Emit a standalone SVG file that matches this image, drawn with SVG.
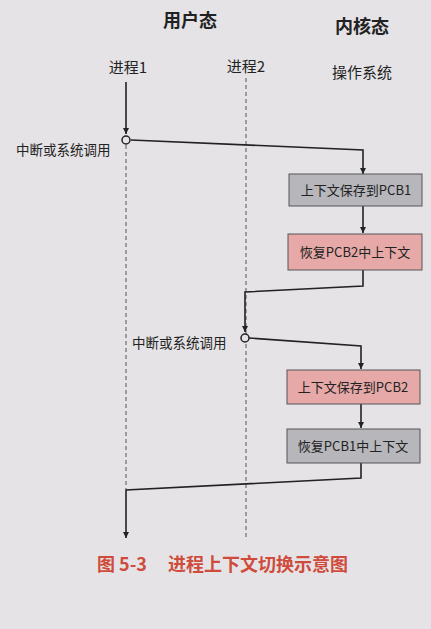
<svg xmlns="http://www.w3.org/2000/svg" width="431" height="629" viewBox="0 0 431 629">
<style>
text{font-family:"Noto Sans CJK SC","Liberation Sans",sans-serif;fill:#222}
.title{font-size:18px;font-weight:bold}
.lbl{font-size:15px}
.small{font-size:13.5px}
.box text{font-size:13px;text-anchor:middle}
.gray{fill:#b6b6bb;stroke:#555;stroke-width:1}
.pink{fill:#e6a9a8;stroke:#555;stroke-width:1}
.dash{stroke:#555;stroke-width:1;stroke-dasharray:4,3;fill:none}
.line{stroke:#222;stroke-width:1.6;fill:none}
.cap{font-size:18px;fill:#cf4b3b;font-weight:bold}
</style>
<defs>
<marker id="ah" viewBox="0 0 10 10" refX="10" refY="5" markerWidth="6" markerHeight="8" orient="auto" markerUnits="userSpaceOnUse">
<path d="M0,0 L10,5 L0,10 z" fill="#222"/>
</marker>
</defs>
<rect width="431" height="629" fill="#e5e3e6"/>
<g id="headers">
<text class="title" x="190" y="27" text-anchor="middle">用户态</text>
<text class="title" x="362" y="33" text-anchor="middle">内核态</text>
<text class="lbl" x="128" y="73" text-anchor="middle">进程1</text>
<text class="lbl" x="246" y="72" text-anchor="middle">进程2</text>
<text class="lbl" x="362" y="78" text-anchor="middle">操作系统</text>
</g>
<g id="lifelines">
<line class="dash" x1="126" y1="145" x2="126" y2="489"/>
<line class="dash" x1="246" y1="78" x2="246" y2="538"/>
</g>
<g id="connectors">
<path class="line" d="M126,82 L126,134" marker-end="url(#ah)"/>
<path class="line" d="M131,140 L363,150 L363,174" marker-end="url(#ah)"/>
<path class="line" d="M363,206 L363,233" marker-end="url(#ah)"/>
<path class="line" d="M363,270 L363,286 L245,292 L245,332" marker-end="url(#ah)"/>
<path class="line" d="M249,338 L361,346 L361,369" marker-end="url(#ah)"/>
<path class="line" d="M361,404 L361,428" marker-end="url(#ah)"/>
<path class="line" d="M361,463 L361,478 L126,490 L126,538" marker-end="url(#ah)"/>
</g>
<g id="int1">
<circle cx="126" cy="140" r="4" fill="#e5e3e6" stroke="#222" stroke-width="1.5"/>
<text class="small" x="16" y="155">中断或系统调用</text>
</g>
<g id="int2">
<circle cx="245" cy="338" r="4" fill="#e5e3e6" stroke="#222" stroke-width="1.5"/>
<text class="small" x="132" y="348">中断或系统调用</text>
</g>
<g id="save1" class="box">
<rect class="gray" x="289" y="174" width="133" height="32"/>
<text x="356" y="195">上下文保存到PCB1</text>
</g>
<g id="restore2" class="box">
<rect class="pink" x="288" y="234" width="134" height="36"/>
<text x="355" y="257">恢复PCB2中上下文</text>
</g>
<g id="save2" class="box">
<rect class="pink" x="287" y="370" width="133" height="34"/>
<text x="353" y="392">上下文保存到PCB2</text>
</g>
<g id="restore1" class="box">
<rect class="gray" x="287" y="429" width="133" height="34"/>
<text x="353" y="451">恢复PCB1中上下文</text>
</g>
<g id="caption">
<text class="cap" x="97" y="571">图 5-3</text>
<text class="cap" x="168" y="571">进程上下文切换示意图</text>
</g>
</svg>
